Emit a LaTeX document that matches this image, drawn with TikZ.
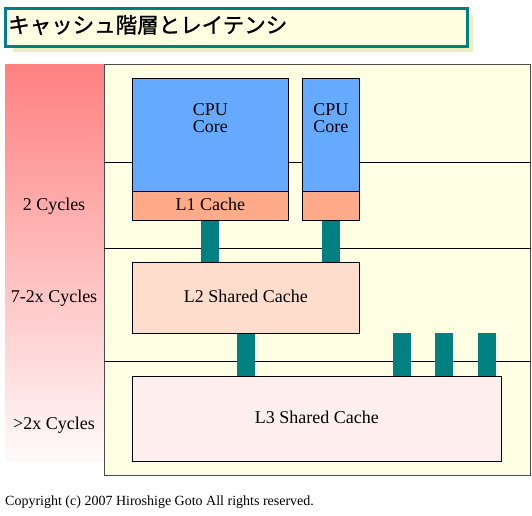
\documentclass[tikz,border=0pt]{standalone}
\usepackage{fontspec}
\setmainfont{Liberation Serif}
\newfontfamily\jpfont[FakeBold=1.2]{Noto Sans CJK JP}
\definecolor{bgyellow}{HTML}{FFFFE4}
\definecolor{titlefill}{HTML}{FFFFE2}
\definecolor{shadowc}{HTML}{EFEDC0}
\definecolor{tealc}{HTML}{008080}
\definecolor{cpublue}{HTML}{66AAFF}
\definecolor{lonec}{HTML}{FFAA88}
\definecolor{ltwoc}{HTML}{FFDDCC}
\definecolor{lthreec}{HTML}{FFEEEE}
\definecolor{pinktop}{HTML}{FF8080}
\definecolor{pinkbot}{HTML}{FFFAFA}
\tikzset{
  lbl/.style={font=\fontsize{18}{17}\selectfont, align=center, inner sep=0pt},
  boxc/.style={draw=black, line width=0.9pt, inner sep=0pt, anchor=north west},
  bus/.style={draw=tealc, line width=18pt},
  rowline/.style={draw=black, line width=0.9pt},
}
\begin{document}
\begin{tikzpicture}[x=1pt,y=-1pt]
\useasboundingbox (0,0) rectangle (532,515);
\fill[white] (0,0) rectangle (532,515);
% title
\fill[shadowc] (13,15) rectangle (473,52);
\node[draw=tealc, line width=3pt, fill=titlefill, anchor=north west, minimum width=462pt, minimum height=38pt, inner sep=0pt] (titlebox) at (4,7) {};
\node[anchor=west, inner sep=0pt, font=\jpfont\fontsize{21.5}{21.5}\selectfont] (title) at (8,25) {キャッシュ階層とレイテンシ};
% latency column
\shade[top color=pinktop, bottom color=pinkbot] (5,64) rectangle (104,462);
% main area
\node[draw=black!70, line width=0.9pt, fill=bgyellow, anchor=north west, minimum width=426pt, minimum height=411pt, inner sep=0pt] (main) at (104,64) {};
\coordinate (r1) at (104,162);
\coordinate (r2) at (104,248);
\coordinate (r3) at (104,361);
\draw[rowline] (r1) -- (r1 -| main.east);
\draw[rowline] (r2) -- (r2 -| main.east);
\draw[rowline] (r3) -- (r3 -| main.east);
% latency labels
\node[lbl] (c2) at (54,206) {2 Cycles};
\node[lbl] (c7) at (54,298) {7-2x Cycles};
\node[lbl] (c3) at (54,425) {>2x Cycles};
% CPU cores
\node[boxc, fill=cpublue, minimum width=156pt, minimum height=113pt] (cpua) at (132,78) {};
\node[boxc, fill=lonec, minimum width=156pt, minimum height=29pt] (lonea) at (132,191) {};
\node[lbl] (la) at ([yshift=1.5pt]lonea.center) {L1 Cache};
\node[lbl, anchor=north] (cpuatext) at ([yshift=-25pt]cpua.north) {CPU\\Core};
\node[boxc, fill=cpublue, minimum width=57pt, minimum height=113pt] (cpub) at (302,78) {};
\node[boxc, fill=lonec, minimum width=57pt, minimum height=29pt] (loneb) at (302,191) {};
\node[lbl, anchor=north] (cpubtext) at ([yshift=-25pt]cpub.north) {CPU\\Core};
% L2
\node[boxc, fill=ltwoc, minimum width=227pt, minimum height=71pt] (ltwo) at (132,262) {};
\node[lbl] (ltwotext) at ([yshift=1.5pt]ltwo.center) {L2 Shared Cache};
% L3
\node[boxc, fill=lthreec, minimum width=369pt, minimum height=85pt] (lthree) at (132,376) {};
\node[lbl] (lthreetext) at ([yshift=1.5pt]lthree.center) {L3 Shared Cache};
% buses
\draw[bus] (lonea.south) -- (lonea.south |- ltwo.north);
\draw[bus] (loneb.south) -- (loneb.south |- ltwo.north);
\draw[bus] (ltwo.south) -- (ltwo.south |- lthree.north);
\coordinate (fa) at (402,333);
\coordinate (fb) at (444,333);
\coordinate (fc) at (487,333);
\draw[bus] (fa) -- (fa |- lthree.north);
\draw[bus] (fb) -- (fb |- lthree.north);
\draw[bus] (fc) -- (fc |- lthree.north);
% copyright
\node[anchor=west, inner sep=0pt, font=\fontsize{14}{14}\selectfont] (copy) at (5,502) {Copyright (c) 2007 Hiroshige Goto All rights reserved.};
\end{tikzpicture}
\end{document}
